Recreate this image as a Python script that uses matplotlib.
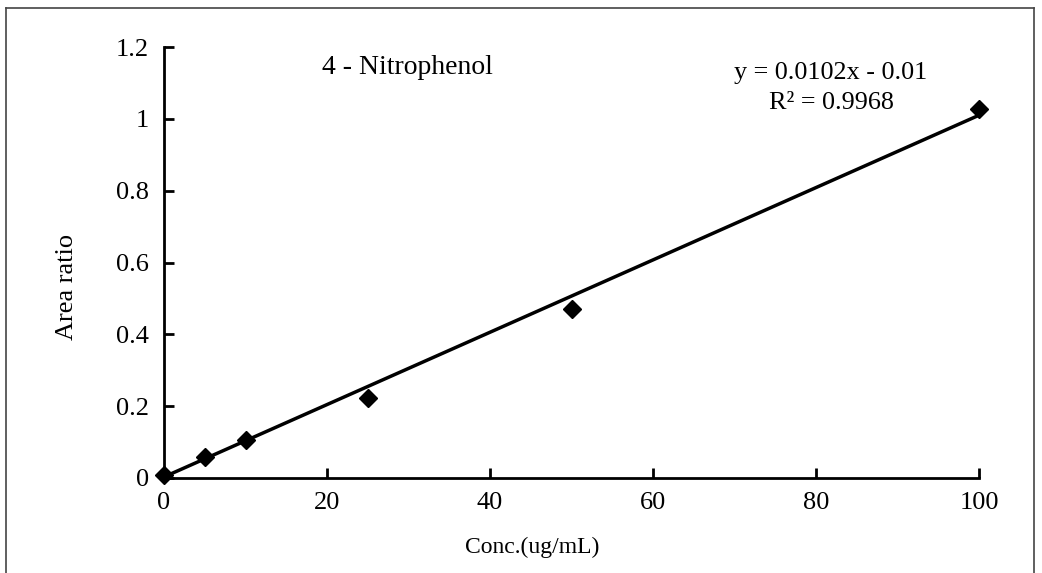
import matplotlib
matplotlib.use("Agg")
import matplotlib.pyplot as plt
import numpy as np

conc = [0, 5, 10, 25, 50, 100]
area_ratio = [0.008, 0.058, 0.106, 0.224, 0.471, 1.027]
slope = 0.0102
intercept = -0.01
x_ticks = [0, 20, 40, 60, 80, 100]
y_ticks = [0, 0.2, 0.4, 0.6, 0.8, 1, 1.2]
y_tick_labels = ["0", "0.2", "0.4", "0.6", "0.8", "1", "1.2"]

plt.rcParams['font.family'] = ['Liberation Serif', 'DejaVu Serif']

W, H = 1042, 573
fig = plt.figure(figsize=(W / 100, H / 100), dpi=100)
ax = fig.add_axes([164 / W, 1 - 478 / H, (979 - 164) / W, (478 - 47) / H])


def fx(px):
    return px / W


def fy(py):
    return 1 - py / H


fit_x = np.array([0, 100])
fit_y = slope * fit_x + intercept
fit_y[0] = 0.003
ax.plot(fit_x, fit_y, color='black', lw=2.5, zorder=2)
ax.plot(conc, area_ratio, linestyle='none', marker='D', color='black',
        markersize=9.5, zorder=3, clip_on=False)

ax.set_xlim(0, 100)
ax.set_ylim(0, 1.2)
ax.set_xticks(x_ticks)
ax.set_xticklabels([str(v) for v in x_ticks])
ax.set_yticks(y_ticks)
ax.set_yticklabels(y_tick_labels)
for s in ['top', 'right']:
    ax.spines[s].set_visible(False)
for s in ['left', 'bottom']:
    ax.spines[s].set_linewidth(2)
ax.tick_params(direction='in', length=7, width=2, labelsize=19, pad=10)
ax.tick_params(axis='y', pad=11)

fig.text(fx(532), fy(547), "Conc.(ug/mL)", fontsize=17, ha='center', va='center')
fig.text(fx(67), fy(287), "Area ratio", fontsize=19, ha='center', va='center',
         rotation=90)

fig.text(fx(322), fy(68), "4 - Nitrophenol", fontsize=20, ha='left', va='center')
fig.text(fx(831), fy(73), "y = 0.0102x - 0.01", fontsize=18.8, ha='center', va='center')
fig.text(fx(831), fy(103), "R² = 0.9968", fontsize=18.8, ha='center', va='center')

# outer frame (bottom edge cut off in reference)
fc = '#444444'
fig.add_artist(plt.Line2D([fx(6), fx(6)], [0, fy(8)], transform=fig.transFigure, color=fc, lw=1.2))
fig.add_artist(plt.Line2D([fx(6), fx(1034)], [fy(8), fy(8)], transform=fig.transFigure, color=fc, lw=1.2))
fig.add_artist(plt.Line2D([fx(1034), fx(1034)], [0, fy(8)], transform=fig.transFigure, color=fc, lw=1.2))

fig.savefig("out.png", dpi=100)
